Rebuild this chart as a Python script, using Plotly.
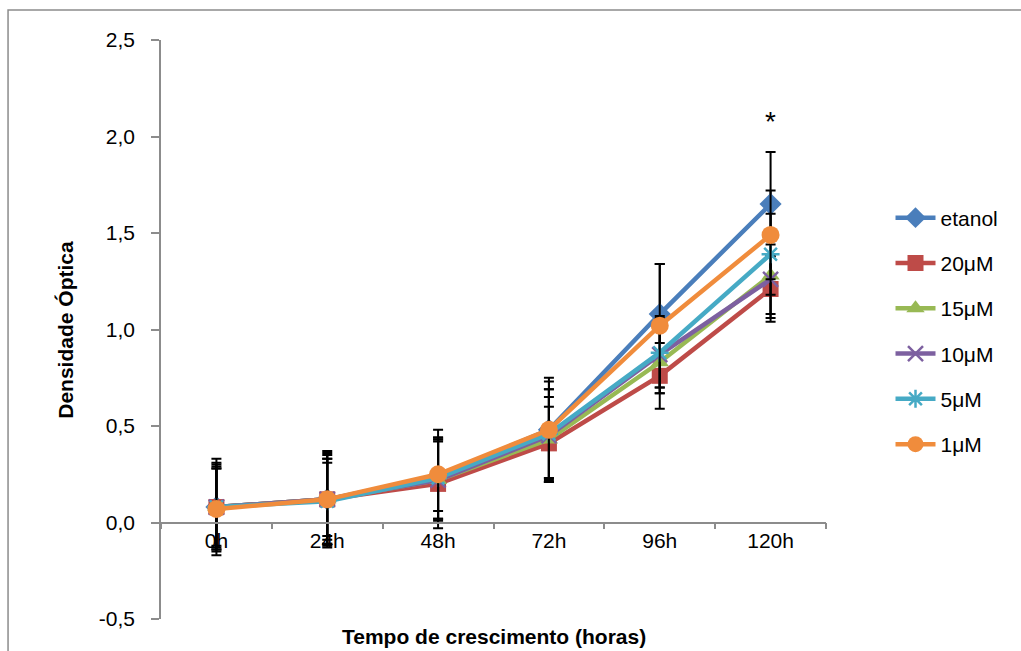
import plotly.graph_objects as go

categories = ["0h", "24h", "48h", "72h", "96h", "120h"]

series_names = ["etanol", "20μM", "15μM", "10μM", "5μM", "1μM"]

etanol = [0.08, 0.12, 0.24, 0.48, 1.08, 1.65]
um20 = [0.08, 0.12, 0.20, 0.41, 0.76, 1.21]
um15 = [0.08, 0.12, 0.22, 0.43, 0.83, 1.28]
um10 = [0.08, 0.12, 0.22, 0.45, 0.87, 1.26]
um5 = [0.08, 0.11, 0.23, 0.46, 0.88, 1.39]
um1 = [0.07, 0.12, 0.25, 0.48, 1.02, 1.49]

err_etanol = [0.25, 0.25, 0.24, 0.27, 0.26, 0.27]
err_um20 = [0.23, 0.23, 0.23, 0.19, 0.17, 0.17]
err_um15 = [0.21, 0.21, 0.21, 0.22, 0.16, 0.22]
err_um10 = [0.20, 0.19, 0.20, 0.24, 0.20, 0.18]
err_um5 = [0.22, 0.22, 0.21, 0.23, 0.18, 0.21]
err_um1 = [0.21, 0.24, 0.19, 0.25, 0.32, 0.23]

y_tick_values = [-0.5, 0.0, 0.5, 1.0, 1.5, 2.0, 2.5]
y_tick_labels = ["-0,5", "0,0", "0,5", "1,0", "1,5", "2,0", "2,5"]

values = [etanol, um20, um15, um10, um5, um1]
errors = [err_etanol, err_um20, err_um15, err_um10, err_um5, err_um1]
colors = ["#4A7EBB", "#BE4B48", "#98B954", "#7D60A0", "#46AAC5", "#F08C3C"]
symbols = ["diamond", "square", "triangle-up", "x-thin-open", "asterisk-open", "circle"]
sizes = [17, 16, 16, 15, 15, 18]

fig = go.Figure()
for name, v, e, c, s, sz in zip(series_names, values, errors, colors, symbols, sizes):
    open_sym = s.endswith("open")
    fig.add_trace(go.Scatter(
        x=categories, y=v, name=name, mode="lines+markers",
        legendgroup=name,
        line=dict(color=c, width=4.5),
        marker=dict(symbol=s, size=sz, color=c,
                    line=dict(color=c, width=2.5 if open_sym else 0)),
        error_y=dict(type="data", array=e, visible=True,
                     color="black", thickness=2, width=5),
    ))

fig.add_annotation(x="120h", y=2.08, text="*", showarrow=False,
                   font=dict(size=28, color="black", family="Liberation Sans"),
                   yanchor="middle")

title_font = dict(size=21, color="black", family="Liberation Sans Narrow, Liberation Sans")
fig.add_annotation(xref="paper", yref="paper", x=0.5, y=-0.03,
                   text="<b>Tempo de crescimento (horas)</b>", showarrow=False,
                   font=title_font, yanchor="middle")
fig.add_annotation(xref="paper", yref="paper", x=-0.144, y=0.5,
                   text="<b>Densidade Óptica</b>", showarrow=False, textangle=-90,
                   font=title_font, xanchor="center", yanchor="middle")

# outer chart border
fig.add_shape(type="rect", xref="paper", yref="paper",
              x0=-0.230, x1=1.40, y0=-0.2, y1=1.052,
              line=dict(color="#8C8C8C", width=1.5), fillcolor="rgba(0,0,0,0)", layer="below")

fig.update_layout(
    width=1021, height=651,
    margin=dict(l=161, r=195, t=40, b=32),
    paper_bgcolor="white", plot_bgcolor="white",
    font=dict(family="Liberation Sans", size=21, color="black"),
    showlegend=True,
    legend=dict(x=1.097, y=0.728, xanchor="left", yanchor="top",
                traceorder="grouped", tracegroupgap=15,
                font=dict(size=21, family="Liberation Sans"),
                itemwidth=40, bgcolor="rgba(0,0,0,0)"),
    xaxis=dict(type="category", anchor="free", position=1/6,
               showline=True, linecolor="#8C8C8C", linewidth=1.5,
               ticks="outside", ticklen=6, tickcolor="#8C8C8C", tickwidth=1.5,
               tickson="boundaries", showgrid=False, zeroline=False,
               range=[-0.5, 5.5], tickfont=dict(size=21)),
    yaxis=dict(range=[-0.5, 2.5], tickmode="array",
               tickvals=y_tick_values, ticktext=y_tick_labels,
               showline=True, linecolor="#8C8C8C", linewidth=1.5,
               ticks="outside", ticklen=8, tickcolor="#8C8C8C", tickwidth=1.5,
               showgrid=False, zeroline=False, ticklabelstandoff=12,
               tickfont=dict(size=21)),
)

fig.write_html("out.html")
